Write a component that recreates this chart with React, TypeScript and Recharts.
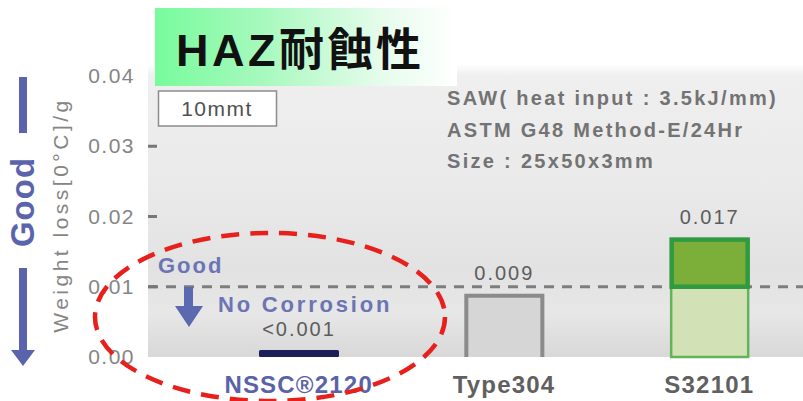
import React from 'react';
import { ComposedChart, Bar, XAxis, YAxis, ReferenceLine, LabelList } from 'recharts';

const categories = ['NSSC®2120', 'Type304', 'S32101'];
const weightLoss = [0.001, 0.009, 0.017];
const valueLabels = ['<0.001', '0.009', '0.017'];
const categoryColors = ['#5a63a8', '#606060', '#606060'];
const yTicks = [0, 0.01, 0.02, 0.03, 0.04];
const yTickLabels = ['0.00', '0.01', '0.02', '0.03', '0.04'];
const noCorrosionLimit = 0.01;
const testNotes = ['SAW( heat input : 3.5kJ/mm)', 'ASTM G48 Method-E/24Hr', 'Size : 25x50x3mm'];

const FONT = "'Liberation Sans', Arial, 'Noto Sans CJK JP', sans-serif";
const PLOT_LEFT = 148;

const data = categories.map((name, i) => ({ name, value: weightLoss[i], label: valueLabels[i] }));

const YTick = ({ x, y, payload }: any) => {
  const idx = yTicks.indexOf(payload.value);
  const showMark = payload.value > 0 && payload.value < 0.04;
  return (
    <g>
      <text x={x - 13} y={y} dy={7} textAnchor="end" fontSize={21} fill="#858585" letterSpacing={1.5} fontFamily={FONT}>
        {idx >= 0 ? yTickLabels[idx] : payload.value}
      </text>
      {showMark && <line x1={PLOT_LEFT} x2={PLOT_LEFT + 9} y1={y} y2={y} stroke="#777" strokeWidth={3} />}
    </g>
  );
};

const XTick = ({ x, y, payload, index }: any) => (
  <text x={x} y={y + 36} textAnchor="middle" fontSize={24} fontWeight="bold" fill={categoryColors[index] || '#606060'} letterSpacing={1.2} fontFamily={FONT}>
    {payload.value}
  </text>
);

// each material gets its own look; the green bar is split where it crosses the no-corrosion limit
const BarShape = (props: any) => {
  const { x, y, width, height, payload } = props;
  const i = categories.indexOf(payload.name);
  if (i === 0) {
    return <rect x={x} y={y} width={width} height={height} fill="#1c1e58" rx={1.5} />;
  }
  if (i === 1) {
    return (
      <g>
        <rect x={x} y={y} width={width} height={height} fill="#d6d6d6" />
        <path d={`M${x + 2},${y + height} L${x + 2},${y + 2} L${x + width - 2},${y + 2} L${x + width - 2},${y + height}`} stroke="#8b8b8b" strokeWidth={4} fill="none" />
      </g>
    );
  }
  const splitY = y + height - height * (noCorrosionLimit / payload.value);
  return (
    <g>
      <rect x={x + 1.5} y={splitY} width={width - 3} height={y + height - splitY} fill="#d3e2b6" stroke="#62b35a" strokeWidth={2.5} />
      <rect x={x + 2} y={y + 2} width={width - 4} height={splitY - y - 2} fill="#7cae3a" stroke="#2f9a3f" strokeWidth={4.5} />
    </g>
  );
};

const ValueLabel = (p: any) => (
  <text x={p.x + p.width / 2} y={p.y - 14} textAnchor="middle" fontSize={20} fill="#5c5c5c" letterSpacing={2} fontFamily={FONT}>
    {p.value}
  </text>
);

export default function App() {
  return (
    <div style={{ position: 'absolute', left: 0, top: 0, width: 803, height: 401, overflow: 'hidden', background: '#fff', fontFamily: FONT }}>
      <div
        style={{
          position: 'absolute', left: PLOT_LEFT, top: 64, width: 700, height: 293,
          background: 'linear-gradient(to bottom, #ffffff 0px, #efefef 12px, #eaeaea 40%, #e2e2e2 70%, #e7e7e7 85%, #d8d8d8 100%)',
        }}
      />
      <div style={{ position: 'absolute', left: 0, top: 0 }}>
        <ComposedChart width={812} height={401} data={data} margin={{ top: 76, right: 0, bottom: 0, left: 0 }}>
          <XAxis dataKey="name" height={44} axisLine={false} tickLine={false} tickSize={0} tickMargin={0} padding={{ left: 48, right: 0 }} interval={0} tick={<XTick />} />
          <YAxis type="number" domain={[0, 0.04]} ticks={yTicks} width={PLOT_LEFT} axisLine={false} tickLine={false} tickSize={0} tickMargin={0} interval={0} tick={<YTick />} />
          <ReferenceLine y={noCorrosionLimit} stroke="#7d7d7d" strokeWidth={3} strokeDasharray="10 8" zIndex={100} />
          <Bar dataKey="value" barSize={80} shape={<BarShape />} isAnimationActive={false}>
            <LabelList dataKey="label" content={<ValueLabel />} />
          </Bar>
        </ComposedChart>
      </div>
      <svg width={803} height={401} style={{ position: 'absolute', left: 0, top: 0, pointerEvents: 'none' }} fontFamily={FONT}>
        <defs>
          <linearGradient id="titleFill" x1="0" y1="0" x2="1" y2="0">
            <stop offset="0%" stopColor="#78fb9c" />
            <stop offset="35%" stopColor="#a6f9bd" />
            <stop offset="75%" stopColor="#e6fcec" />
            <stop offset="100%" stopColor="#ffffff" />
          </linearGradient>
        </defs>
        <rect x={155} y={8} width={302} height={78} fill="url(#titleFill)" />
        <text x={176} y={66} fontSize={45} fontWeight="bold" fill="#111" letterSpacing={3.5}>HAZ耐蝕性</text>

        <rect x={158.5} y={91} width={118} height={35} fill="#fff" stroke="#8c8c8c" strokeWidth={1.5} />
        <text x={217} y={116} textAnchor="middle" fontSize={21} fill="#505050" letterSpacing={1.5}>10mmt</text>

        {testNotes.map((t, i) => (
          <text key={t} x={447} y={105 + i * 31.5} fontSize={20} fontWeight="bold" fill="#737373" letterSpacing={2.3}>{t}</text>
        ))}

        {/* left "Good" indicator */}
        <rect x={19} y={77} width={8} height={56} fill="#5a64ac" />
        <text transform="translate(34,202) rotate(-90)" textAnchor="middle" fontSize={33} fontWeight="bold" fill="#5a64ac" letterSpacing={1}>Good</text>
        <rect x={19} y={268} width={8} height={84} fill="#5a64ac" />
        <polygon points="11,350 35,350 23,366" fill="#5a64ac" />
        <text transform="translate(68,215) rotate(-90)" textAnchor="middle" fontSize={21} fill="#858585" letterSpacing={3.5}>Weight loss[0°C]/g</text>

        {/* inside panel note */}
        <text x={158} y={273} fontSize={22} fontWeight="bold" fill="#6b74b5" letterSpacing={2}>Good</text>
        <rect x={184} y={287} width={9} height={21} fill="#5a69b0" />
        <polygon points="175,306 203,306 189,327" fill="#5a69b0" />
        <text x={218} y={312} fontSize={22} fontWeight="bold" fill="#6b74b5" letterSpacing={2.8}>No Corrosion</text>

        <ellipse cx={270} cy={317} rx={175} ry={84} fill="none" stroke="#e8201c" strokeWidth={4.5} strokeDasharray="18 11" />
      </svg>
    </div>
  );
}
